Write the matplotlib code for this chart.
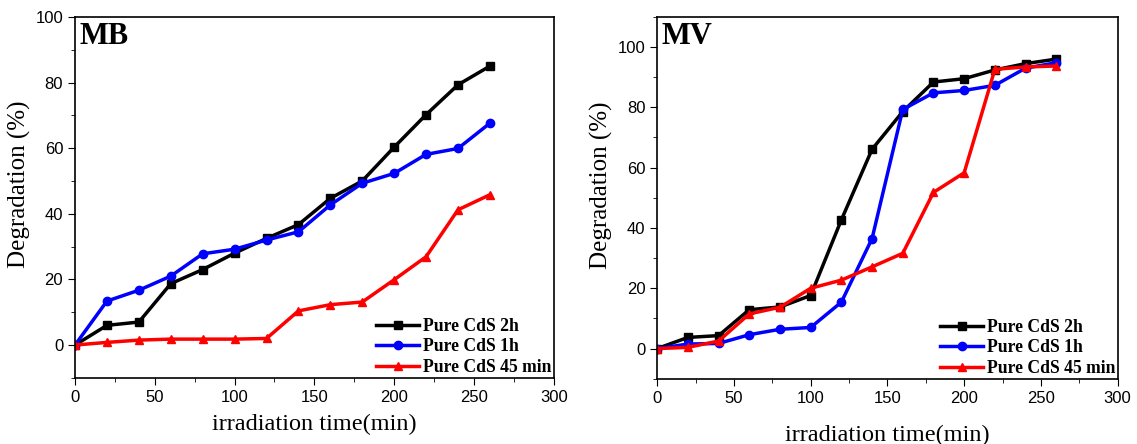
import matplotlib.pyplot as plt
from matplotlib.ticker import MultipleLocator

time = [0, 20, 40, 60, 80, 100, 120, 140, 160, 180, 200, 220, 240, 260]

mb_2h = [0, 6.0, 7.0, 18.7, 23.0, 28.0, 32.5, 36.7, 44.7, 50.0, 60.3, 70.2, 79.3, 85.0]
mb_1h = [0, 13.4, 16.7, 21.0, 27.8, 29.2, 32.0, 34.5, 42.7, 49.3, 52.3, 58.1, 59.9, 67.6]
mb_45 = [0, 0.8, 1.5, 1.8, 1.8, 1.8, 2.0, 10.4, 12.3, 13.1, 19.9, 26.9, 41.2, 45.8]

mv_2h = [0, 3.7, 4.3, 12.9, 13.8, 17.6, 42.7, 66.1, 78.6, 88.4, 89.5, 92.4, 94.5, 96.0]
mv_1h = [0, 1.5, 1.7, 4.6, 6.4, 7.0, 15.4, 36.5, 79.3, 84.8, 85.6, 87.3, 93.0, 94.8]
mv_45 = [0, 0.4, 2.5, 11.5, 13.7, 20.0, 22.7, 27.1, 31.6, 51.8, 58.3, 92.6, 93.4, 93.7]

labels = ['Pure CdS 2h', 'Pure CdS 1h', 'Pure CdS 45 min']
styles = [('black', 's'), ('blue', 'o'), ('red', '^')]

fig = plt.figure(figsize=(11.37, 4.44), dpi=100)
ax1 = fig.add_axes([0.066, 0.149, 0.421, 0.813])
ax2 = fig.add_axes([0.578, 0.147, 0.405, 0.815])

panels = [
    (ax1, 'MB', [mb_2h, mb_1h, mb_45], (-10, 100), 7),
    (ax2, 'MV', [mv_2h, mv_1h, mv_45], (-10, 110), 14),
]

for ax, name, series, ylim, xpad in panels:
    for vals, lab, (c, m) in zip(series, labels, styles):
        ax.plot(time, vals, color=c, marker=m, markersize=6, linewidth=2.5, label=lab)
    ax.set_xlim(0, 300)
    ax.set_ylim(*ylim)
    ax.xaxis.set_major_locator(MultipleLocator(50))
    ax.xaxis.set_minor_locator(MultipleLocator(25))
    ax.yaxis.set_major_locator(MultipleLocator(20))
    ax.yaxis.set_minor_locator(MultipleLocator(10))
    ax.tick_params(which='both', direction='out', top=False, right=False)
    ax.tick_params(which='major', length=5, labelsize=12)
    ax.tick_params(which='minor', length=3)
    for lbl in ax.get_xticklabels() + ax.get_yticklabels():
        lbl.set_fontfamily('Liberation Sans')
    for sp in ax.spines.values():
        sp.set_linewidth(1.2)
    ax.set_xlabel('irradiation time(min)', fontsize=17.5, family='Liberation Serif', labelpad=xpad)
    ax.set_ylabel('Degradation (%)', fontsize=18, family='Liberation Serif', labelpad=3)
    ax.yaxis.label.set_y(0.535)
    ax.text(0.01, 0.985, name, transform=ax.transAxes, ha='left', va='top',
            fontsize=22, fontweight='bold', family='Liberation Serif')
    ax.legend(loc='lower right', bbox_to_anchor=(1.01, -0.014), frameon=False,
              handlelength=2.45, handletextpad=0.2, labelspacing=0.2, borderaxespad=0,
              prop={'family': 'Liberation Serif', 'weight': 'bold', 'size': 12.7})

fig.savefig('out.png', dpi=100)
